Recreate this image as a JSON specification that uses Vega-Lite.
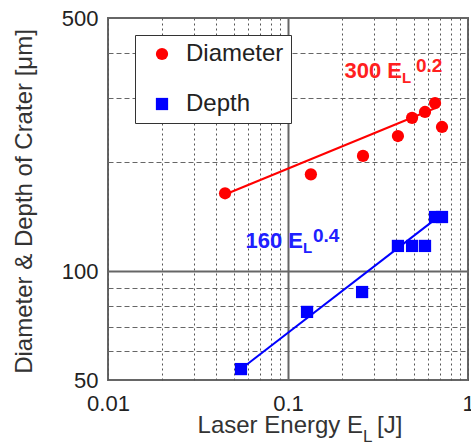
{
  "$schema": "https://vega.github.io/schema/vega-lite/v6.json",
  "width": 360,
  "height": 362,
  "autosize": {"type": "none"},
  "padding": {"left": 108, "top": 18, "right": 3, "bottom": 65},
  "background": "white",
  "config": {
    "view": {"stroke": "#666666", "strokeWidth": 2},
    "text": {"font": "Liberation Sans"}
  },
  "datasets": {
    "points": [
      {"series": "Diameter", "x": 0.0447, "y": 164},
      {"series": "Diameter", "x": 0.134, "y": 185},
      {"series": "Diameter", "x": 0.261, "y": 208},
      {"series": "Diameter", "x": 0.408, "y": 236},
      {"series": "Diameter", "x": 0.489, "y": 265},
      {"series": "Diameter", "x": 0.577, "y": 275},
      {"series": "Diameter", "x": 0.656, "y": 291},
      {"series": "Diameter", "x": 0.717, "y": 250},
      {"series": "Depth", "x": 0.0548, "y": 53.6},
      {"series": "Depth", "x": 0.1276, "y": 77.1},
      {"series": "Depth", "x": 0.258, "y": 87.5},
      {"series": "Depth", "x": 0.408, "y": 117.3},
      {"series": "Depth", "x": 0.489, "y": 117.3},
      {"series": "Depth", "x": 0.577, "y": 117.3},
      {"series": "Depth", "x": 0.656, "y": 141},
      {"series": "Depth", "x": 0.717, "y": 141}
    ],
    "fits": [
      {"series": "Diameter", "x": 0.045, "y": 163},
      {"series": "Diameter", "x": 0.66, "y": 282},
      {"series": "Depth", "x": 0.0548, "y": 53.6},
      {"series": "Depth", "x": 0.673, "y": 140.2}
    ],
    "ann": [
      {"series": "Diameter", "part": "main", "text": "300 E", "x": 0.43, "y": 341.4},
      {"series": "Diameter", "part": "sub", "text": "L", "x": 0.43, "y": 330.7},
      {"series": "Diameter", "part": "sup", "text": "0.2", "x": 0.5143, "y": 354.7},
      {"series": "Depth", "part": "main", "text": "160 E", "x": 0.1212, "y": 115.8},
      {"series": "Depth", "part": "sub", "text": "L", "x": 0.1212, "y": 112.1},
      {"series": "Depth", "part": "sup", "text": "0.4", "x": 0.1377, "y": 120.3}
    ],
    "xtitle": [
      {"part": "main", "text": "Laser Energy E", "x": 0.261, "y": 50},
      {"part": "sub", "text": "L", "x": 0.261, "y": 50},
      {"part": "unit", "text": "[J]", "x": 0.3122, "y": 50}
    ]
  },
  "encoding": {
    "x": {
      "field": "x",
      "type": "quantitative",
      "scale": {"type": "log", "domain": [0.01, 1], "nice": false},
      "axis": {
        "title": null,
        "values": [0.01, 0.02, 0.03, 0.04, 0.05, 0.06, 0.07, 0.08, 0.09, 0.1, 0.2, 0.3, 0.4, 0.5, 0.6, 0.7, 0.8, 0.9, 1],
        "labelExpr": "datum.value == 0.01 ? '0.01' : datum.value == 0.1 ? '0.1' : datum.value == 1 ? '1' : ''",
        "labelOverlap": false,
        "labelFlush": false,
        "labelFont": "Liberation Sans",
        "labelFontSize": 22,
        "labelColor": "#222222",
        "labelPadding": 13,
        "ticks": false,
        "tickSize": 0,
        "domain": false,
        "grid": true,
        "gridColor": {"condition": {"test": "datum.value == 0.1", "value": "#666666"}, "value": "#555555"},
        "gridWidth": {"condition": {"test": "datum.value == 0.1", "value": 2}, "value": 1},
        "gridDash": {"condition": {"test": "datum.value == 0.1", "value": []}, "value": [2, 3]}
      }
    },
    "y": {
      "field": "y",
      "type": "quantitative",
      "scale": {"type": "log", "domain": [50, 500], "nice": false},
      "axis": {
        "title": "Diameter & Depth of Crater [μm]",
        "titleFont": "Liberation Sans",
        "titleFontSize": 24,
        "titleFontWeight": "normal",
        "titleColor": "#333333",
        "titleX": -77,
        "titleY": 183,
        "titleAngle": 270,
        "titleAlign": "center",
        "titleBaseline": "alphabetic",
        "values": [50, 60, 70, 80, 90, 100, 200, 300, 400, 500],
        "labelExpr": "datum.value == 50 ? '50' : datum.value == 100 ? '100' : datum.value == 500 ? '500' : ''",
        "labelOverlap": false,
        "labelFont": "Liberation Sans",
        "labelFontSize": 22,
        "labelColor": "#222222",
        "labelPadding": 10,
        "ticks": false,
        "tickSize": 0,
        "domain": false,
        "grid": true,
        "gridColor": {"condition": {"test": "datum.value == 100", "value": "#666666"}, "value": "#666666"},
        "gridWidth": {"condition": {"test": "datum.value == 100", "value": 2}, "value": 1},
        "gridDash": {"condition": {"test": "datum.value == 100", "value": []}, "value": [5, 3]}
      }
    }
  },
  "layer": [
    {
      "data": {"name": "fits"},
      "transform": [{"filter": "datum.series === 'Diameter'"}],
      "mark": {"type": "line", "strokeWidth": 2, "color": "#ff0000"},
      "encoding": {}
    },
    {
      "data": {"name": "fits"},
      "transform": [{"filter": "datum.series === 'Depth'"}],
      "mark": {"type": "line", "strokeWidth": 2, "color": "#0000ff"},
      "encoding": {}
    },
    {
      "data": {"name": "points"},
      "mark": {"type": "point", "filled": true, "opacity": 1, "size": 150},
      "encoding": {
        "color": {
          "field": "series",
          "type": "nominal",
          "scale": {"domain": ["Diameter", "Depth"], "range": ["#ff0000", "#0000ff"]},
          "legend": {
            "orient": "none",
            "legendX": 27,
            "legendY": 17,
            "title": null,
            "fillColor": "white",
            "strokeColor": "#333333",
            "padding": 7,
            "labelFont": "Liberation Sans",
            "labelFontSize": 24,
            "labelColor": "#222222",
            "labelExpr": "datum.label + '\u00a0\u00a0\u00a0\u00a0'",
            "symbolSize": 150,
            "symbolOffset": 8,
            "labelOffset": 12,
            "rowPadding": 26
          }
        },
        "shape": {
          "field": "series",
          "type": "nominal",
          "scale": {"domain": ["Diameter", "Depth"], "range": ["circle", "square"]}
        }
      }
    },
    {
      "data": {"name": "ann"},
      "transform": [{"filter": "datum.part === 'main' && datum.series === 'Diameter'"}],
      "mark": {"type": "text", "font": "Liberation Sans", "fontWeight": "bold", "fontSize": 22, "align": "right", "baseline": "alphabetic", "color": "#ff2020"},
      "encoding": {"text": {"field": "text"}}
    },
    {
      "data": {"name": "ann"},
      "transform": [{"filter": "datum.part === 'sub' && datum.series === 'Diameter'"}],
      "mark": {"type": "text", "font": "Liberation Sans", "fontWeight": "bold", "fontSize": 15, "align": "left", "baseline": "alphabetic", "color": "#ff2020"},
      "encoding": {"text": {"field": "text"}}
    },
    {
      "data": {"name": "ann"},
      "transform": [{"filter": "datum.part === 'sup' && datum.series === 'Diameter'"}],
      "mark": {"type": "text", "font": "Liberation Sans", "fontWeight": "bold", "fontSize": 19, "align": "left", "baseline": "alphabetic", "color": "#ff2020"},
      "encoding": {"text": {"field": "text"}}
    },
    {
      "data": {"name": "ann"},
      "transform": [{"filter": "datum.part === 'main' && datum.series === 'Depth'"}],
      "mark": {"type": "text", "font": "Liberation Sans", "fontWeight": "bold", "fontSize": 22, "align": "right", "baseline": "alphabetic", "color": "#2020ff"},
      "encoding": {"text": {"field": "text"}}
    },
    {
      "data": {"name": "ann"},
      "transform": [{"filter": "datum.part === 'sub' && datum.series === 'Depth'"}],
      "mark": {"type": "text", "font": "Liberation Sans", "fontWeight": "bold", "fontSize": 15, "align": "left", "baseline": "alphabetic", "color": "#2020ff"},
      "encoding": {"text": {"field": "text"}}
    },
    {
      "data": {"name": "ann"},
      "transform": [{"filter": "datum.part === 'sup' && datum.series === 'Depth'"}],
      "mark": {"type": "text", "font": "Liberation Sans", "fontWeight": "bold", "fontSize": 19, "align": "left", "baseline": "alphabetic", "color": "#2020ff"},
      "encoding": {"text": {"field": "text"}}
    },
    {
      "data": {"name": "xtitle"},
      "transform": [{"filter": "datum.part === 'main'"}],
      "mark": {"type": "text", "font": "Liberation Sans", "fontSize": 24, "align": "right", "baseline": "alphabetic", "dy": 53, "color": "#333333"},
      "encoding": {"text": {"field": "text"}}
    },
    {
      "data": {"name": "xtitle"},
      "transform": [{"filter": "datum.part === 'sub'"}],
      "mark": {"type": "text", "font": "Liberation Sans", "fontSize": 17, "align": "left", "baseline": "alphabetic", "dy": 62, "color": "#333333"},
      "encoding": {"text": {"field": "text"}}
    },
    {
      "data": {"name": "xtitle"},
      "transform": [{"filter": "datum.part === 'unit'"}],
      "mark": {"type": "text", "font": "Liberation Sans", "fontSize": 24, "align": "left", "baseline": "alphabetic", "dy": 53, "color": "#333333"},
      "encoding": {"text": {"field": "text"}}
    }
  ]
}
